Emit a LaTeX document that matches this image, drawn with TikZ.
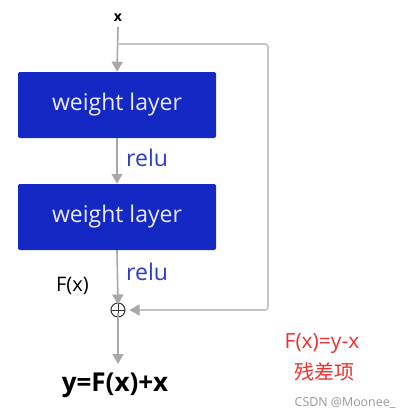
\documentclass[tikz,border=0pt]{standalone}
\usepackage{fontspec}
\setmainfont{Open Sans}
\newfontfamily\cjk{Noto Sans CJK SC}
\usetikzlibrary{arrows.meta}
\definecolor{boxblue}{HTML}{1428C3}
\definecolor{relublue}{HTML}{2B3BCB}
\definecolor{arrgray}{HTML}{A8A8A8}
\definecolor{skipgray}{HTML}{C4C4C4}
\definecolor{resred}{HTML}{F03030}
\begin{document}
\begin{tikzpicture}[x=1pt,y=-1pt,
  layer/.style={draw=none,fill=boxblue,rounded corners=2pt,minimum width=198pt,minimum height=66pt,text=white!92!blue,font=\fontsize{23}{25}\selectfont,inner sep=0pt},
  flow/.style={draw=arrgray,line width=1.6pt,-{Triangle[width=11pt,length=10pt]}},
  skip/.style={draw=skipgray,line width=1.6pt,rounded corners=3pt,-{Triangle[width=11pt,length=10pt,fill=arrgray,color=arrgray]}},
  summer/.style={circle,draw=black!80,line width=1pt,minimum size=14pt,inner sep=0pt,
    path picture={\draw[black!80,line width=1pt] (path picture bounding box.north) -- (path picture bounding box.south) (path picture bounding box.west) -- (path picture bounding box.east);}},
  lbl/.style={inner sep=0pt}]
\useasboundingbox (0,0) rectangle (411,418);
\node[lbl,font=\fontsize{14}{16}\selectfont\bfseries] (x) at (118,18) {x};
\node[layer] (w1) at (117,105) {weight layer};
\node[layer] (w2) at (117,217) {weight layer};
\node[summer] (sum) at (118,310) {};
\node[lbl,text=relublue,anchor=west,font=\fontsize{23}{25}\selectfont] (r1) at (126,158) {relu};
\node[lbl,text=relublue,anchor=west,font=\fontsize{23}{25}\selectfont] (r2) at (126,272) {relu};
\node[lbl,font=\fontsize{20}{22}\selectfont,anchor=east] (fx) at (89,286) {F(x)};
\node[lbl,font=\fontsize{26}{28}\selectfont\bfseries] (y) at (115,385) {y=F(x)+x};
\node[lbl,text=resred,font=\fontsize{21}{23}\selectfont] (res) at (322,344) {F(x)=y-x};
\node[lbl,text=resred,font=\cjk\fontsize{20}{22}\selectfont] (cn) at (324,372) {残差项};
\node[lbl,text=gray!80,font=\fontsize{12.4}{14}\selectfont] (wm) at (345,403) {CSDN @Moonee\_};
\coordinate (br) at (118,44);
\coordinate (c1) at (268,44);
\coordinate (c2) at (268,310);
\draw[flow] (x.south |- 0,27) -- (w1.north);
\draw[flow] (w1.south) -- (w2.north);
\draw[flow] (w2.south) -- ([yshift=-2pt]sum.north);
\draw[flow] ([yshift=5pt]sum.south) -- (118,364);
\draw[skip] (br) -- (c1) -- (c2) -- ([xshift=4pt]sum.east);
\end{tikzpicture}
\end{document}
